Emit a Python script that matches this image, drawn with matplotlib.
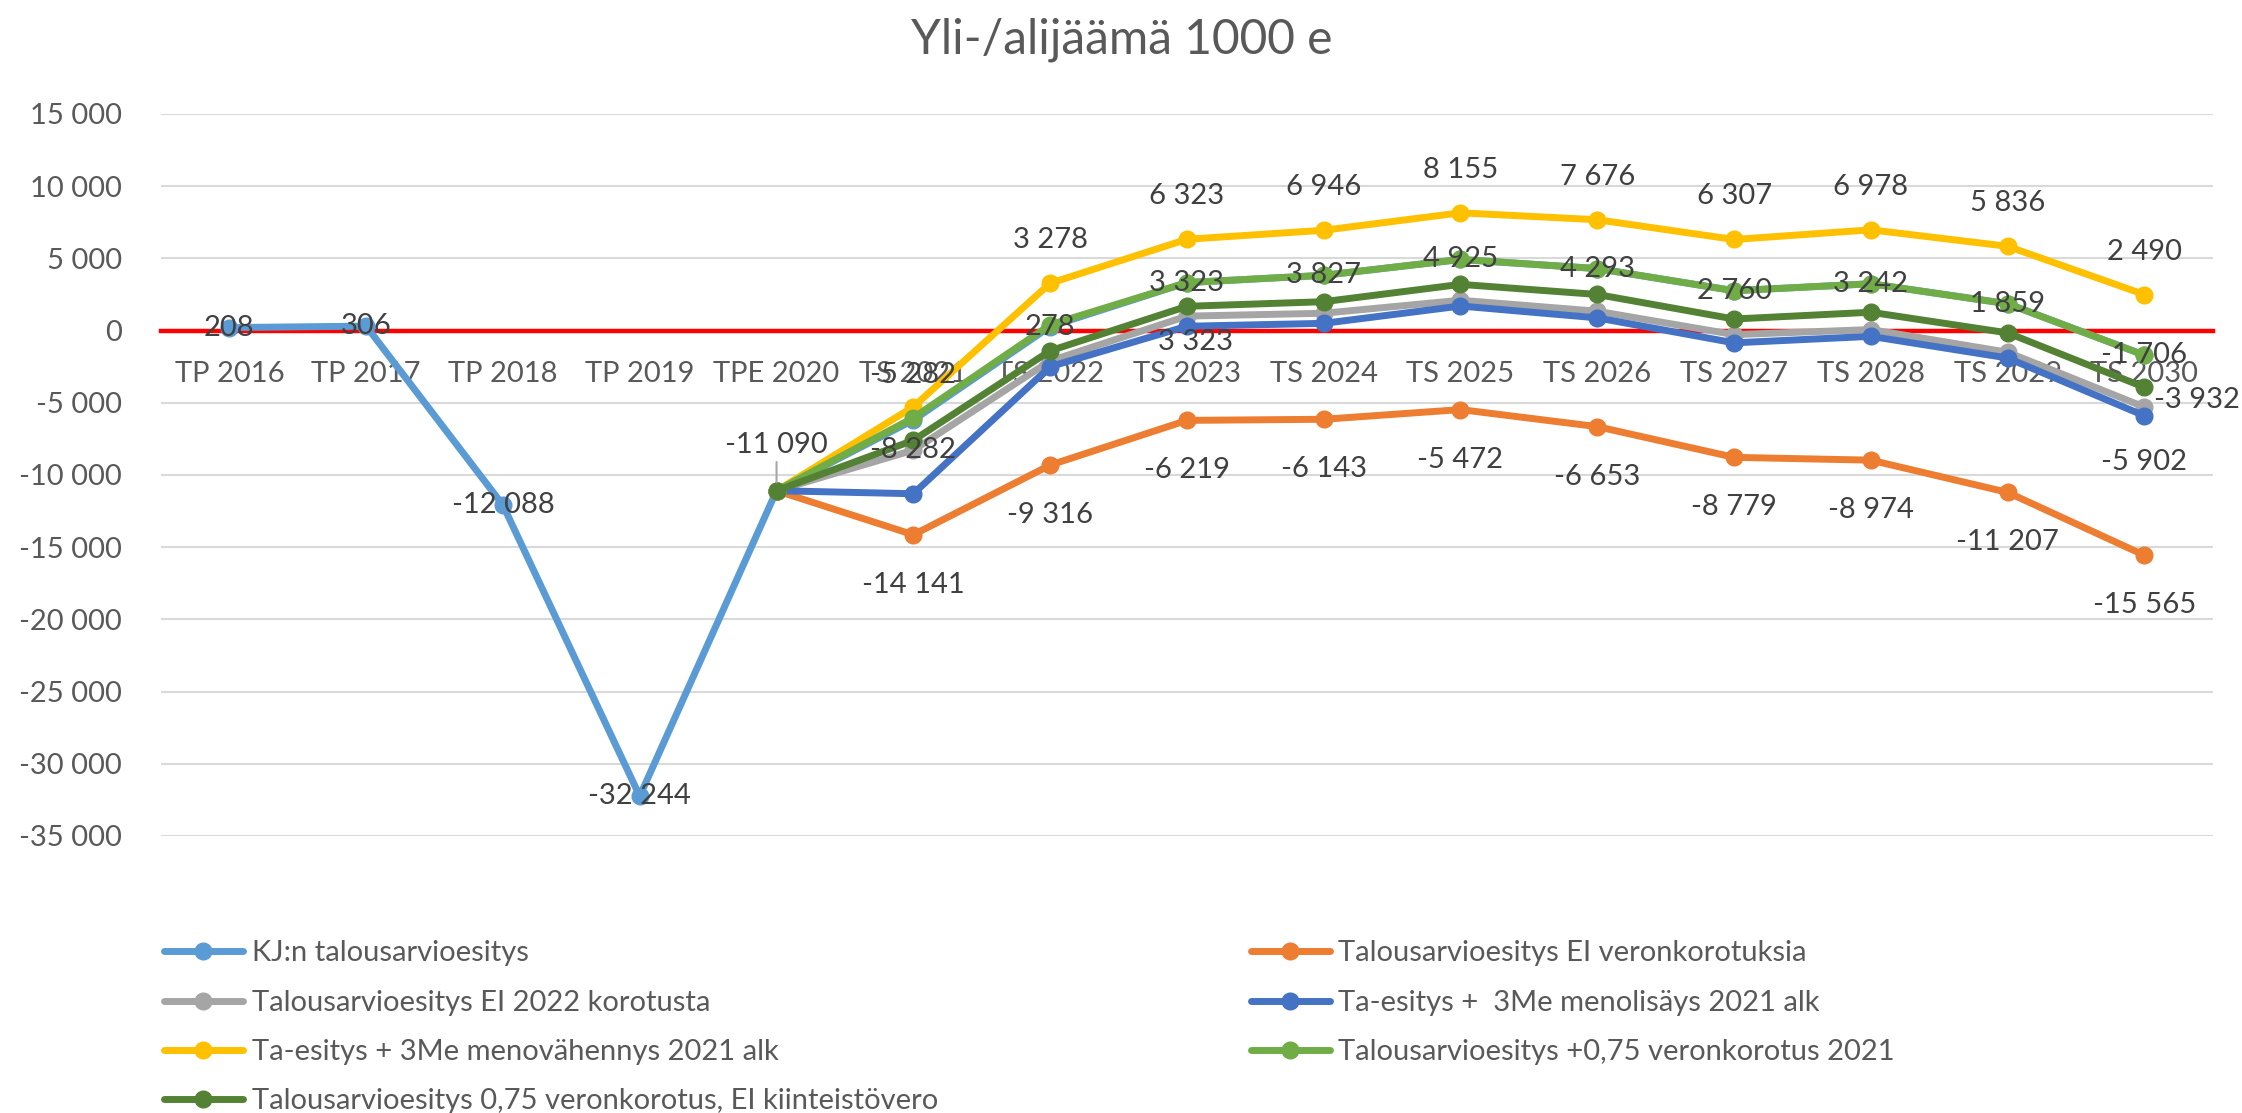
import matplotlib
matplotlib.use("Agg")
import matplotlib.pyplot as plt
import numpy as np
from matplotlib.ticker import FuncFormatter, MultipleLocator

plt.rcParams['font.family'] = ['Lato', 'DejaVu Sans']

nan = np.nan

# categories (x axis)
cats = ["TP 2016", "TP 2017", "TP 2018", "TP 2019", "TPE 2020",
        "TS 2021", "TS 2022", "TS 2023", "TS 2024", "TS 2025",
        "TS 2026", "TS 2027", "TS 2028", "TS 2029", "TS 2030"]

# series values, 1000 e
kj = [208, 306, -12088, -32244, -11090, -6200, 278, 3323, 3827, 4925, 4293, 2760, 3242, 1859, -1706]
ei_vero = [nan, nan, nan, nan, -11090, -14141, -9316, -6219, -6143, -5472, -6653, -8779, -8974, -11207, -15565]
ei_2022 = [nan, nan, nan, nan, -11090, -8282, -2100, 1000, 1200, 2100, 1340, -280, 70, -1500, -5300]
menolisays = [nan, nan, nan, nan, -11090, -11300, -2500, 300, 500, 1700, 880, -850, -400, -1900, -5902]
menovahennys = [nan, nan, nan, nan, -11090, -5282, 3278, 6323, 6946, 8155, 7676, 6307, 6978, 5836, 2490]
vero_075 = [nan, nan, nan, nan, -11090, -6040, 400, 3323, 3827, 4925, 4293, 2760, 3242, 1859, -1706]
vero_075_ei_kv = [nan, nan, nan, nan, -11090, -7600, -1400, 1680, 2000, 3200, 2500, 800, 1270, -160, -3932]

names = ["KJ:n talousarvioesitys",
         "Talousarvioesitys EI veronkorotuksia",
         "Talousarvioesitys EI 2022 korotusta",
         "Ta-esitys +  3Me menolisäys 2021 alk",
         "Ta-esitys + 3Me menovähennys 2021 alk",
         "Talousarvioesitys +0,75 veronkorotus 2021",
         "Talousarvioesitys 0,75 veronkorotus, EI kiinteistövero"]
series = [kj, ei_vero, ei_2022, menolisays, menovahennys, vero_075, vero_075_ei_kv]
colors = ["#5B9BD5", "#ED7D31", "#A5A5A5", "#4472C4", "#FFC000", "#70AD47", "#548235"]

# data label placement: series index -> {point index: (dx, dy) in points}
yellow_pos = {i: (0, 31) for i in range(5, 15)}
yellow_pos[5] = (0, 23)
label_pos = {
    0: {0: (0, 0), 1: (0, 0), 2: (0, 0), 3: (0, 0), 4: "leader", 6: (0, 0), 7: (6, -43)},
    1: {i: (0, -36) for i in range(5, 15)},
    2: {5: (0, 0)},
    3: {14: (0, -33)},
    4: yellow_pos,
    5: {i: (0, 0) for i in range(7, 15)},
    6: {14: "right"},
}

FS = 21


def fmt(v):
    return f"{v:,.0f}".replace(",", " ")


fig = plt.figure(figsize=(22.42, 11.13), dpi=100)
ax = fig.add_axes([0.0718, 0.2489, 0.9152, 0.6487])

x = np.arange(len(cats))
for vals, name, c in zip(series, names, colors):
    ax.plot(x, vals, color=c, lw=5, marker='o', ms=12, zorder=3,
            solid_capstyle='round', solid_joinstyle='round', label=name)

lab_kw = dict(fontsize=FS, color='#404040', ha='center', va='center', zorder=5)
for si, spec in label_pos.items():
    vals = series[si]
    for i, pos in spec.items():
        v = vals[i]
        if pos == "leader":
            ax.annotate(fmt(v), (x[i], v), xytext=(0, 33), textcoords='offset points',
                        arrowprops=dict(arrowstyle='-', color='#A6A6A6', lw=1.5,
                                        shrinkA=1, shrinkB=6), **lab_kw)
        elif pos == "right":
            kw = dict(lab_kw, ha='left')
            ax.annotate(fmt(v), (x[i], v), xytext=(7, -9), textcoords='offset points', **kw)
        else:
            ax.annotate(fmt(v), (x[i], v), xytext=pos, textcoords='offset points', **lab_kw)

ax.set_xlim(-0.5, len(cats) - 0.5)
ax.set_ylim(-35000, 15000)
ax.yaxis.set_major_locator(MultipleLocator(5000))
ax.yaxis.set_major_formatter(FuncFormatter(lambda v, p: fmt(v)))
ax.set_xticks(x, cats)
ax.grid(axis='y', color='#D9D9D9', lw=1.5)
ax.set_axisbelow(True)
for s in ['top', 'right', 'left']:
    ax.spines[s].set_visible(False)
ax.spines['bottom'].set_position(('data', 0))
ax.spines['bottom'].set_color('#FF0000')
ax.spines['bottom'].set_linewidth(3.2)
ax.tick_params(axis='x', length=0, pad=22, labelsize=FS, labelcolor='#595959')
ax.tick_params(axis='y', length=0, pad=28, labelsize=FS, labelcolor='#595959')

fig.text(0.5005, 1 - 40 / 1113, "Yli-/alijäämä 1000 e", ha='center', va='center',
         fontsize=34.5, color='#595959')

handles, labels = ax.get_legend_handles_labels()
leg_kw = dict(loc='upper left', frameon=False, fontsize=FS, handlelength=2.7,
              handletextpad=0.3, labelspacing=0.8, borderpad=0, borderaxespad=0,
              labelcolor='#595959')
left_idx = [0, 2, 4, 6]
right_idx = [1, 3, 5]
fig.legend([handles[i] for i in left_idx], [labels[i] for i in left_idx],
           bbox_to_anchor=(164 / 2242, 0.155), **leg_kw)
fig.legend([handles[i] for i in right_idx], [labels[i] for i in right_idx],
           bbox_to_anchor=(1251 / 2242, 0.155), **leg_kw)

fig.savefig('out.png', dpi=100)
